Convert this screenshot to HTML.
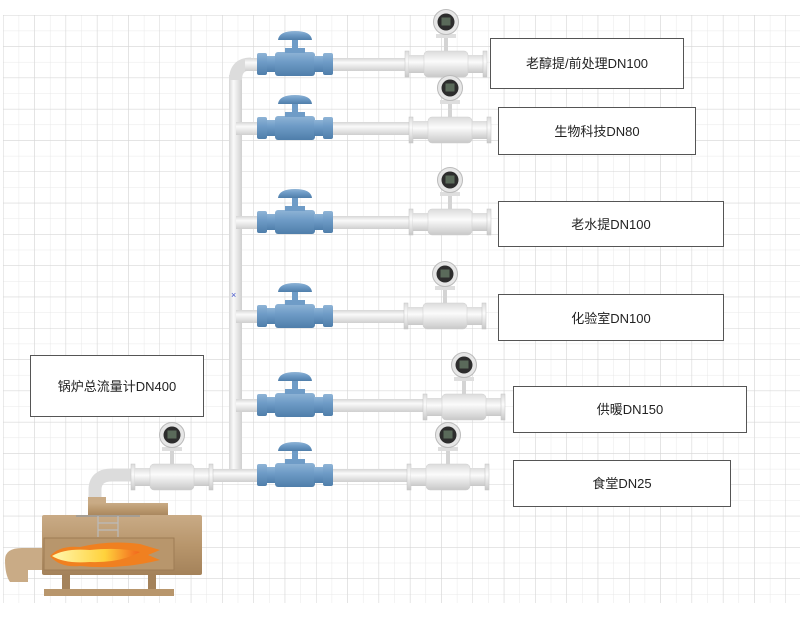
<!DOCTYPE html>
<html><head><meta charset="utf-8"><style>
body{margin:0;background:#fff;}
svg{display:block;}
text{font-family:"Liberation Sans","Noto Sans CJK SC",sans-serif;font-size:13px;fill:#222;}
</style></head><body>
<svg width="800" height="623" viewBox="0 0 800 623" xmlns="http://www.w3.org/2000/svg">
<defs>
<pattern id="minor" x="3" y="15" width="15.65" height="15.65" patternUnits="userSpaceOnUse">
<path d="M0 0V15.65M0 0H15.65" stroke="#e8e8e8" stroke-width="1" fill="none"/>
</pattern>
<pattern id="major" x="3" y="15" width="31.3" height="31.3" patternUnits="userSpaceOnUse">
<path d="M0 0V31.3M0 0H31.3" stroke="#d4d4d4" stroke-width="1" fill="none"/>
</pattern>
<linearGradient id="pipeH" x1="0" y1="0" x2="0" y2="1">
<stop offset="0" stop-color="#d6d6d6"/><stop offset="0.35" stop-color="#fafafa"/><stop offset="1" stop-color="#cfcfcf"/>
</linearGradient>
<linearGradient id="pipeV" x1="0" y1="0" x2="1" y2="0">
<stop offset="0" stop-color="#d6d6d6"/><stop offset="0.35" stop-color="#fafafa"/><stop offset="1" stop-color="#cfcfcf"/>
</linearGradient>
<linearGradient id="blue" x1="0" y1="0" x2="0" y2="1">
<stop offset="0" stop-color="#8fb4d6"/><stop offset="0.4" stop-color="#6f9cc7"/><stop offset="1" stop-color="#4f7eaa"/>
</linearGradient>
<linearGradient id="silver" x1="0" y1="0" x2="0" y2="1">
<stop offset="0" stop-color="#dcdcdc"/><stop offset="0.4" stop-color="#fbfbfb"/><stop offset="1" stop-color="#c8c8c8"/>
</linearGradient>
<linearGradient id="tan" x1="0" y1="0" x2="0" y2="1">
<stop offset="0" stop-color="#c9ab86"/><stop offset="0.5" stop-color="#b8966c"/><stop offset="1" stop-color="#a4825a"/>
</linearGradient>
<linearGradient id="flame" x1="0" y1="0" x2="1" y2="0">
<stop offset="0" stop-color="#fff7b0"/><stop offset="0.6" stop-color="#ffd23c"/><stop offset="1" stop-color="#f2641c"/>
</linearGradient>
<g id="valve">
<rect x="-38" y="-11" width="10" height="22" rx="2" fill="url(#blue)"/>
<rect x="-28" y="-8" width="9" height="16" fill="url(#blue)"/>
<rect x="-20" y="-12" width="40" height="24" rx="3" fill="url(#blue)"/>
<rect x="19" y="-8" width="9" height="16" fill="url(#blue)"/>
<rect x="28" y="-11" width="10" height="22" rx="2" fill="url(#blue)"/>
<rect x="-10" y="-16" width="20" height="5" fill="#6f9cc7"/>
<rect x="-3" y="-24" width="6" height="10" fill="#6f9cc7"/>
<path d="M-17 -24 Q-16 -33 0 -33 Q16 -33 17 -24 Z" fill="url(#blue)"/>
</g>
<g id="meter">
<rect x="-41" y="-13" width="4" height="26" fill="url(#silver)" stroke="#c4c4c4" stroke-width="0.5"/>
<rect x="-37" y="-9" width="74" height="18" fill="url(#silver)"/>
<rect x="-22" y="-13" width="44" height="26" rx="4" fill="url(#silver)" stroke="#cfcfcf" stroke-width="0.5"/>
<rect x="37" y="-13" width="4" height="26" fill="url(#silver)" stroke="#c4c4c4" stroke-width="0.5"/>
<rect x="-2" y="-27" width="4" height="14" fill="#d4d4d4"/>
<rect x="-10" y="-30" width="20" height="4" fill="#dedede"/>
<circle cx="0" cy="-42" r="12.5" fill="#e6e6e6" stroke="#bbb" stroke-width="1"/>
<circle cx="0" cy="-42" r="8.5" fill="#2d2d2d"/>
<rect x="-4.5" y="-46.5" width="9" height="8" fill="#5a6a5a"/>
</g>
</defs>
<rect x="3" y="15" width="797" height="588" fill="url(#minor)"/>
<rect x="3" y="15" width="797" height="588" fill="url(#major)"/>

<rect x="229" y="75" width="13" height="405" fill="url(#pipeV)"/>
<path d="M235.5 80 Q235.5 64 251 64" stroke="#dcdcdc" stroke-width="13" fill="none"/>
<rect x="245" y="58" width="200" height="13" fill="url(#pipeH)"/>
<rect x="236" y="122" width="220" height="13" fill="url(#pipeH)"/>
<rect x="236" y="216" width="220" height="13" fill="url(#pipeH)"/>
<rect x="236" y="310" width="220" height="13" fill="url(#pipeH)"/>
<rect x="236" y="399" width="230" height="13" fill="url(#pipeH)"/>
<rect x="190" y="469" width="266" height="13" fill="url(#pipeH)"/>
<path d="M95 498 V490 Q95 475 112 475 H140" stroke="#dcdcdc" stroke-width="13" fill="none"/>

<use href="#valve" x="295" y="64"/>
<use href="#valve" x="295" y="128"/>
<use href="#valve" x="295" y="222"/>
<use href="#valve" x="295" y="316"/>
<use href="#valve" x="295" y="405"/>
<use href="#valve" x="295" y="475"/>

<use href="#meter" x="446" y="64"/>
<use href="#meter" x="450" y="130"/>
<use href="#meter" x="450" y="222"/>
<use href="#meter" x="445" y="316"/>
<use href="#meter" x="464" y="407"/>
<use href="#meter" x="448" y="477"/>
<use href="#meter" x="172" y="477"/>

<text x="231" y="298" style="font-size:9px;fill:#4455cc">×</text>

<rect x="88" y="497" width="18" height="6" fill="#c9ab86"/>
<rect x="88" y="503" width="80" height="14" fill="url(#tan)"/>
<rect x="42" y="515" width="160" height="60" rx="2" fill="url(#tan)"/>
<rect x="44" y="538" width="130" height="32" fill="#b8966c" stroke="#9e7c55" stroke-width="1"/>
<line x1="76" y1="516" x2="140" y2="516" stroke="#999" stroke-width="1.5"/>
<g stroke="#bbb" stroke-width="1.2"><line x1="98" y1="516" x2="98" y2="537"/><line x1="118" y1="516" x2="118" y2="537"/><line x1="98" y1="523" x2="118" y2="523"/><line x1="98" y1="530" x2="118" y2="530"/></g>
<path d="M50 556 Q60 545 80 547 Q110 540 140 544 L160 550 L148 555 L160 560 Q120 570 80 566 Q60 568 50 556 Z" fill="#f08020"/>
<path d="M52 556 Q65 548 90 550 Q120 547 140 552 Q120 563 90 562 Q65 564 52 556 Z" fill="url(#flame)"/>
<path d="M5 560 Q5 548 22 548 H42 V570 H28 V582 H10 Q5 575 5 560 Z" fill="#c9ab86"/>
<rect x="62" y="575" width="8" height="14" fill="#a4825a"/>
<rect x="148" y="575" width="8" height="14" fill="#a4825a"/>
<rect x="44" y="589" width="130" height="7" fill="#b8966c"/>

<g fill="#fff" stroke="#555" stroke-width="1">
<rect x="490.5" y="38.5" width="193" height="50"/>
<rect x="498.5" y="107.5" width="197" height="47"/>
<rect x="498.5" y="201.5" width="225" height="45"/>
<rect x="498.5" y="294.5" width="225" height="46"/>
<rect x="513.5" y="386.5" width="233" height="46"/>
<rect x="513.5" y="460.5" width="217" height="46"/>
<rect x="30.5" y="355.5" width="173" height="61"/>
</g>
<g text-anchor="middle">
<text x="587" y="68">老醇提/前处理DN100</text>
<text x="597" y="136">生物科技DN80</text>
<text x="611" y="229">老水提DN100</text>
<text x="611" y="323">化验室DN100</text>
<text x="630" y="414">供暖DN150</text>
<text x="622" y="488">食堂DN25</text>
<text x="117" y="391">锅炉总流量计DN400</text>
</g>
</svg>
</body></html>
